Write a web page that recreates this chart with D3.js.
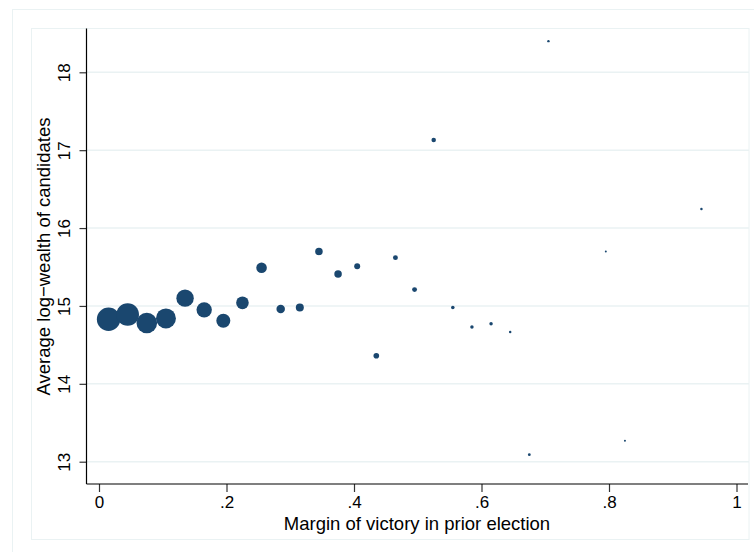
<!DOCTYPE html>
<html>
<head>
<meta charset="utf-8">
<script src="https://cdn.jsdelivr.net/npm/d3@7"></script>
<style>
  html, body { margin: 0; padding: 0; background: #fff; }
  svg { display: block; }
  text { font-family: Arial, "Liberation Sans", sans-serif; fill: #000; }
</style>
</head>
<body>
<svg id="chart" width="754" height="552"></svg>
<script>
// Data: binned margin of victory (bin midpoints), average log-wealth, and bin weight (marker size)
const margin = [0.015, 0.045, 0.075, 0.105, 0.135, 0.165, 0.195, 0.225, 0.255, 0.285, 0.315, 0.345, 0.375, 0.405, 0.435, 0.465, 0.495, 0.525, 0.555, 0.585, 0.615, 0.645, 0.675, 0.705, 0.795, 0.825, 0.945];
const wealth = [14.83, 14.89, 14.78, 14.84, 15.10, 14.95, 14.81, 15.04, 15.49, 14.96, 14.98, 15.70, 15.41, 15.51, 14.36, 15.62, 15.21, 17.13, 14.98, 14.73, 14.77, 14.665, 13.09, 18.40, 15.70, 13.27, 16.245];
const weight = [137, 128, 106, 100, 76, 59, 49, 40, 28, 18, 16, 14, 14, 9, 8, 6, 6, 5, 3.2, 3, 3, 1.5, 2, 1.5, 1, 1, 1.5];
const xTicks = [0, 0.2, 0.4, 0.6, 0.8, 1];
const xTickLabels = ["0", ".2", ".4", ".6", ".8", "1"];
const yTicks = [13, 14, 15, 16, 17, 18];
const xTitle = "Margin of victory in prior election";
const yTitle = "Average log\u2212wealth of candidates";

const svg = d3.select("#chart");
const plot = { left: 86.5, right: 749, top: 28.5, bottom: 484 };

// faint frames
svg.append("rect").attr("x", 12.5).attr("y", 9.5).attr("width", 760).attr("height", 560)
  .attr("fill", "none").attr("stroke", "#eaf2f3").attr("stroke-width", 1);
svg.append("rect").attr("x", 31.5).attr("y", 28.5).attr("width", 717.5).attr("height", 511)
  .attr("fill", "none").attr("stroke", "#eaf2f3").attr("stroke-width", 1);

const x = d3.scaleLinear().domain([0, 1]).range([99, 736.5]);
const y = d3.scaleLinear().domain([13, 18]).range([461.7, 72.3]);
const r = d3.scaleSqrt().domain([0, 137]).range([0, 11.7]);

// gridlines
svg.append("g").selectAll("line").data(yTicks).join("line")
  .attr("x1", plot.left).attr("x2", plot.right)
  .attr("y1", d => y(d)).attr("y2", d => y(d))
  .attr("stroke", "#eaf2f3").attr("stroke-width", 1.5);

// points
const pts = margin.map((m, i) => ({ m, w: wealth[i], n: weight[i] }));
svg.append("g").selectAll("circle").data(pts).join("circle")
  .attr("cx", d => x(d.m)).attr("cy", d => y(d.w)).attr("r", d => r(d.n))
  .attr("fill", "#1a476f");

// x axis
const xAxis = d3.axisBottom(x).tickValues(xTicks)
  .tickFormat((d, i) => xTickLabels[i]).tickSize(8).tickSizeOuter(0).tickPadding(4);
const gx = svg.append("g").attr("transform", `translate(0,${plot.bottom})`).call(xAxis);
gx.select(".domain").remove();
gx.append("line").attr("x1", plot.left).attr("x2", plot.right - 1).attr("y1", 0).attr("y2", 0)
  .attr("stroke", "#000").attr("stroke-width", 1.2);
gx.selectAll(".tick line").attr("stroke", "#333").attr("stroke-width", 1.2);
gx.selectAll(".tick text").attr("font-size", 17).attr("font-family", "Arial, 'Liberation Sans', sans-serif")
  .attr("fill", "#000");

// y axis
const yAxis = d3.axisLeft(y).tickValues(yTicks).tickFormat(d3.format("d")).tickSize(7).tickSizeOuter(0);
const gy = svg.append("g").attr("transform", `translate(${plot.left},0)`).call(yAxis);
gy.select(".domain").remove();
gy.append("line").attr("x1", 0).attr("x2", 0).attr("y1", plot.top).attr("y2", plot.bottom)
  .attr("stroke", "#000").attr("stroke-width", 1.2);
gy.selectAll(".tick line").attr("stroke", "#333").attr("stroke-width", 1.2);
gy.selectAll(".tick text")
  .attr("x", null).attr("dy", null)
  .attr("font-size", 17).attr("font-family", "Arial, 'Liberation Sans', sans-serif").attr("fill", "#000")
  .attr("text-anchor", "middle")
  .attr("transform", "translate(-16.5,0) rotate(-90)");

// titles
svg.append("text").attr("x", 417).attr("y", 530).attr("text-anchor", "middle")
  .attr("font-size", 18.5).text(xTitle);
svg.append("text").attr("transform", "translate(50,256.5) rotate(-90)").attr("text-anchor", "middle")
  .attr("font-size", 18.5).text(yTitle);
</script>
</body>
</html>
